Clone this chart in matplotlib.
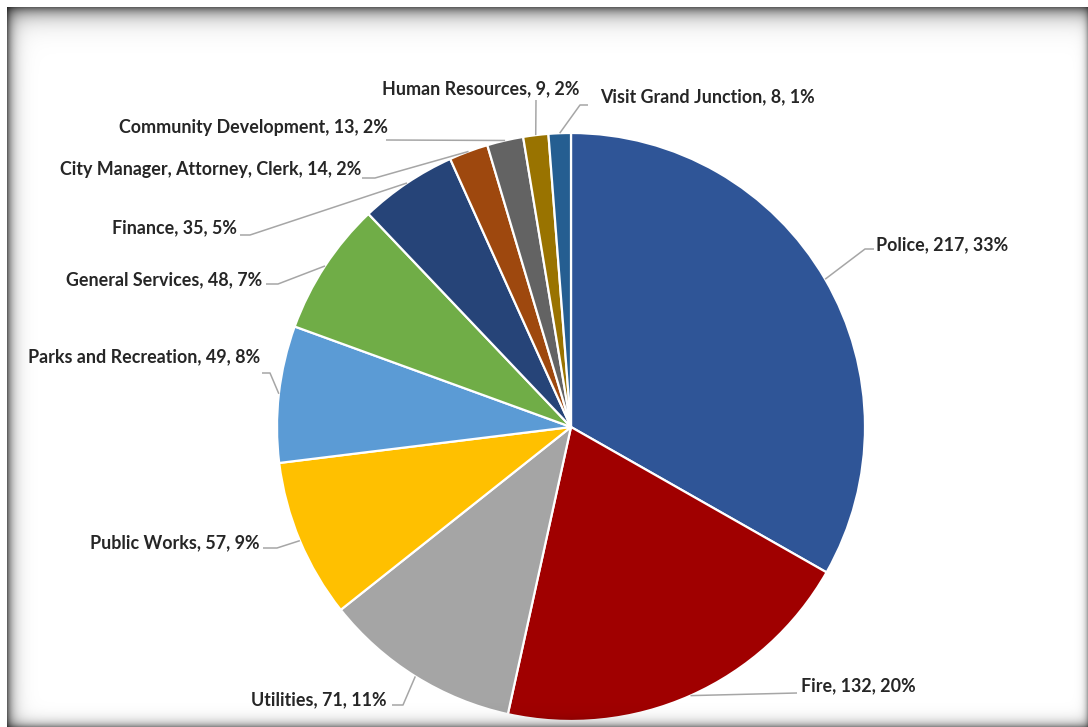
import numpy as np
import matplotlib
matplotlib.use("Agg")
import matplotlib.pyplot as plt

W, H = 1088, 727

departments = ["Police", "Fire", "Utilities", "Public Works", "Parks and Recreation",
               "General Services", "Finance", "City Manager, Attorney, Clerk",
               "Community Development", "Human Resources", "Visit Grand Junction"]
employees = [217, 132, 71, 57, 49, 48, 35, 14, 13, 9, 8]
percent_labels = ["33%", "20%", "11%", "9%", "8%", "7%", "5%", "2%", "2%", "2%", "1%"]
colors = ["#2F5597", "#A00000", "#A5A5A5", "#FFC000", "#5B9BD5", "#70AD47",
          "#264478", "#9E480E", "#636363", "#997300", "#255E91"]

# label anchor (x, y, ha) in pixels from the top-left, plus the bend of each leader line
label_pos = [(876, 245, "left"), (801, 686, "left"), (387, 700, "right"),
             (260, 543, "right"), (260, 357, "right"), (262, 280, "right"),
             (237, 228, "right"), (361, 169, "right"), (388, 128, "right"),
             (481, 89, "center"), (600, 97, "left")]
leader_bends = [[(874, 249), (865, 249)], [(797, 693)], [(392, 705), (403, 705)],
                [(263, 548), (277, 548)], [(262, 373), (270, 373)],
                [(266, 284), (278, 284)], [(240, 235), (250, 235)],
                [(362, 178), (375, 178)], [(386, 140)], [(536, 100)],
                [(588, 105), (580, 105)]]

pie_center = (571, 427)
pie_radius = 294


def flip(pt):
    return pt[0], H - pt[1]


fig = plt.figure(figsize=(W / 100, H / 100), dpi=100)
ax = fig.add_axes([0, 0, 1, 1])

wedges, _ = ax.pie(employees, colors=colors, startangle=90, counterclock=False,
                   center=flip(pie_center), radius=pie_radius, frame=True,
                   wedgeprops=dict(edgecolor="white", linewidth=1.6))

cx, cy = flip(pie_center)
for w, name, val, pct, (tx, ty, ha), bends in zip(wedges, departments, employees,
                                                   percent_labels, label_pos, leader_bends):
    mid = np.deg2rad((w.theta1 + w.theta2) / 2)
    edge = (cx + pie_radius * np.cos(mid), cy + pie_radius * np.sin(mid))
    pts = [flip(p) for p in bends] + [edge]
    xs, ys = zip(*pts)
    ax.plot(xs, ys, color="#A6A6A6", lw=1.1, solid_capstyle="butt", zorder=1)
    ax.text(tx, H - ty, f"{name}, {val}, {pct}", ha=ha, va="center",
            fontsize=12.9, fontweight="bold", family=["Lato", "DejaVu Sans"],
            color="#262626")

# inner shadow frame around the chart
yy, xx = np.mgrid[0:H, 0:W].astype(float)
left = 0.62 * np.exp(-(xx - 7) / 6.0)
top = 0.62 * np.exp(-(yy - 7) / 9.0)
bottom = 0.45 * np.exp(-(H - 1 - yy) / 5.0)
right = 0.35 * np.exp(-(W - 1 - xx) / 3.0)
dark = 1 - (1 - left) * (1 - top) * (1 - bottom) * (1 - right)
dark = np.clip(dark, 0, 1)
inside = (xx >= 7) & (yy >= 7)
overlay = np.zeros((H, W, 4))
overlay[..., 3] = np.where(inside, dark, 0)
ax.imshow(overlay, extent=(0, W, 0, H), origin="upper", zorder=5, interpolation="nearest")

ax.set_xlim(0, W)
ax.set_ylim(0, H)
ax.set_axis_off()
fig.savefig("out.png", dpi=100)
